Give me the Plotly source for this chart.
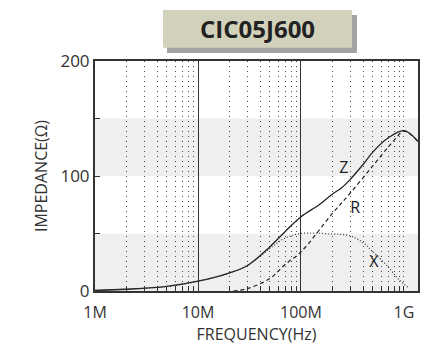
import plotly.graph_objects as go

# ---- data ----
title_text = "CIC05J600"
z_freq = [1e6, 2e6, 5e6, 1e7, 2e7, 3e7, 5e7, 7e7, 1e8, 1.5e8, 2e8, 2.5e8, 3e8, 4e8, 5e8, 7e8, 1e9, 1.37e9]
z_vals = [0.5, 1.5, 4, 8.5, 15.6, 22, 38.5, 51.6, 64.6, 75, 84, 90, 97, 110, 121, 133, 139.4, 130]
r_freq = [2.2e7, 3e7, 5e7, 7e7, 1e8, 2e8, 3e8, 5e8, 7e8, 8e8, 1e9, 1.37e9]
r_vals = [0, 2, 11, 23, 34, 67, 85, 109, 125, 131, 139, 130]
x_freq = [1e6, 2e6, 5e6, 1e7, 2e7, 3e7, 5e7, 7e7, 1e8, 2e8, 3e8, 4e8, 5e8, 7e8, 9e8, 1.1e9]
x_vals = [0.5, 1.5, 4, 8.5, 15.5, 22, 37, 46, 50, 49.6, 48, 42, 34, 21, 9.6, 3]
curve_labels = ["Z", "R", "X"]
label_freq = [2.6e8, 3.35e8, 5.1e8]
label_vals = [106, 71, 24]
x_major = [1e6, 1e7, 1e8, 1e9]
x_major_text = ["1M", "10M", "100M", "1G"]
x_solid = [1e7, 1e8]
y_ticks = [0, 50, 100, 150, 200]
y_tick_text = ["0", "", "100", "", "200"]
bands = [(0, 50), (100, 150)]

minor = []
for dec in [1e6, 1e7, 1e8]:
    for m in range(2, 10):
        minor.append(m * dec)
x_tickvals = x_major + minor
x_ticktext = x_major_text + [""] * len(minor)

FONT = "Open Sans"
INK = "#222222"

fig = go.Figure()
fig.add_trace(go.Scatter(x=z_freq, y=z_vals, mode="lines", line=dict(color=INK, width=1.3, shape="spline"), showlegend=False))
fig.add_trace(go.Scatter(x=r_freq, y=r_vals, mode="lines", line=dict(color=INK, width=1.2, dash="4px,3px", shape="spline"), showlegend=False))
fig.add_trace(go.Scatter(x=x_freq, y=x_vals, mode="lines", line=dict(color="#333333", width=1.2, dash="1px,2px", shape="spline"), showlegend=False))
fig.add_trace(go.Scatter(x=label_freq, y=label_vals, mode="text", text=curve_labels,
                         textfont=dict(family=FONT, size=16, color=INK), showlegend=False))
# overlay axis for solid decade lines
fig.add_trace(go.Scatter(x=[x_solid[0]], y=[0], xaxis="x2", mode="markers", marker=dict(opacity=0), showlegend=False, hoverinfo="skip"))

for b0, b1 in bands:
    fig.add_shape(type="rect", xref="x domain", x0=0, x1=1, yref="y", y0=b0, y1=b1,
                  fillcolor="#efefef", line_width=0, layer="below")

# title box with shadow
fig.add_shape(type="rect", xref="paper", yref="paper", x0=0.2229, x1=0.8111, y0=1.0348, y1=1.2,
              fillcolor="#a3a3a3", line_width=0)
fig.add_shape(type="rect", xref="paper", yref="paper", x0=0.2105, x1=0.7957, y0=1.0578, y1=1.2217,
              fillcolor="#d2d2bc", line_width=0)
fig.add_annotation(text="<b>" + title_text + "</b>", xref="paper", yref="paper", x=0.503, y=1.14,
                   showarrow=False, font=dict(family=FONT, size=24, color=INK), xanchor="center", yanchor="middle")

fig.update_layout(
    width=422, height=349,
    margin=dict(l=95, r=4, t=61, b=58, autoexpand=False),
    paper_bgcolor="white", plot_bgcolor="white",
    xaxis=dict(type="log", range=[6, 9.136], tickvals=x_tickvals, ticktext=x_ticktext,
               showgrid=True, gridcolor="#444444", gridwidth=1, griddash="1px,4px",
               ticks="inside", ticklen=5, tickcolor="#333333", automargin=False,
               showline=True, linecolor="#333333", linewidth=2, mirror=True,
               tickfont=dict(family=FONT, size=16, color="#333333"), ticklabelstandoff=6,
               title=dict(text="FREQUENCY(Hz)", font=dict(family=FONT, size=16, color="#333333"), standoff=1),
               zeroline=False),
    xaxis2=dict(type="log", range=[6, 9.136], overlaying="x", tickvals=x_solid, showticklabels=False,
                showgrid=True, gridcolor="#333333", gridwidth=1, ticks="", showline=False, side="bottom",
                zeroline=False, automargin=False),
    yaxis=dict(range=[0, 200], tickvals=y_ticks, ticktext=y_tick_text, showgrid=False,
               ticks="inside", ticklen=5, tickcolor="#333333", automargin=False,
               showline=True, linecolor="#333333", linewidth=2, mirror=True,
               tickfont=dict(family=FONT, size=17, color="#333333"),
               title=dict(text="IMPEDANCE(Ω)", font=dict(family=FONT, size=16, color="#333333"), standoff=9),
               zeroline=False),
)

fig.write_html("out.html", config={"displayModeBar": False},
               post_script="document.body.style.margin='0';document.body.style.padding='0';")
